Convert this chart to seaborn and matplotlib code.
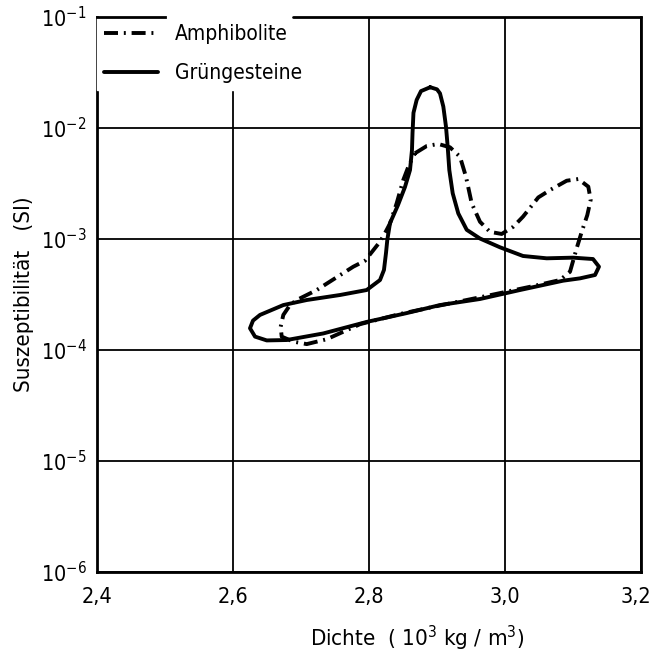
import matplotlib
matplotlib.use("Agg")
import matplotlib.pyplot as plt
import matplotlib.ticker as mticker
import matplotlib.transforms as mtransforms
from matplotlib.lines import Line2D
from matplotlib import font_manager
import pandas as pd
import seaborn as sns

# ---------------- data ----------------
series_labels = ["Amphibolite", "Grüngesteine"]

dichte_gruen = [2.890, 2.900, 2.9044, 2.9093, 2.9132, 2.9157, 2.9181, 2.9231, 2.9313, 2.9437,
                2.9632, 2.9926, 3.0265, 3.0613, 3.100, 3.1294, 3.1382, 3.1324, 3.1103, 3.0853,
                3.022, 2.9632, 2.9044, 2.8554, 2.7966, 2.7328, 2.679, 2.6496, 2.6324, 2.625,
                2.6294, 2.6397, 2.674, 2.7084, 2.7574, 2.7966, 2.8162, 2.822, 2.825, 2.8269,
                2.8309, 2.8426, 2.8529, 2.8603, 2.8632, 2.864, 2.8654, 2.8701, 2.8765, 2.890]
susz_gruen = [2.33e-2, 2.23e-2, 2.05e-2, 1.56e-2, 1.03e-2, 6.79e-3, 4.18e-3, 2.58e-3, 1.70e-3, 1.21e-3,
              1.01e-3, 8.42e-4, 7.03e-4, 6.70e-4, 6.79e-4, 6.60e-4, 5.63e-4, 4.74e-4, 4.42e-4, 4.21e-4,
              3.47e-4, 2.88e-4, 2.54e-4, 2.15e-4, 1.79e-4, 1.41e-4, 1.23e-4, 1.22e-4, 1.32e-4, 1.57e-4,
              1.84e-4, 2.07e-4, 2.54e-4, 2.82e-4, 3.13e-4, 3.47e-4, 4.27e-4, 5.26e-4, 7.48e-4, 9.80e-4,
              1.39e-3, 2.02e-3, 2.94e-3, 4.18e-3, 6.33e-3, 9.02e-3, 1.37e-2, 1.79e-2, 2.15e-2, 2.33e-2]

dichte_amph = [2.8676, 2.8849, 2.9019, 2.9191, 2.9338, 2.9426, 2.951, 2.9632, 2.9779, 2.9951,
               3.0122, 3.0265, 3.049, 3.0662, 3.0907, 3.1078, 3.1225, 3.126, 3.121, 3.1128,
               3.1054, 3.0956, 3.0809, 3.042, 2.973, 2.9044, 2.8456, 2.787, 2.7378, 2.7084,
               2.6887, 2.6716, 2.6701, 2.674, 2.6838, 2.6937, 2.7231, 2.7769, 2.7941, 2.8162,
               2.8235, 2.8309, 2.8407, 2.8504, 2.8588, 2.8676]
susz_amph = [5.92e-3, 6.88e-3, 7.18e-3, 6.70e-3, 5.51e-3, 3.64e-3, 2.10e-3, 1.43e-3, 1.16e-3, 1.11e-3,
             1.29e-3, 1.59e-3, 2.37e-3, 2.76e-3, 3.35e-3, 3.47e-3, 2.96e-3, 2.25e-3, 1.64e-3, 1.16e-3,
             8.25e-4, 5.07e-4, 4.27e-4, 3.77e-4, 3.07e-4, 2.52e-4, 2.11e-4, 1.71e-4, 1.25e-4, 1.13e-4,
             1.19e-4, 1.32e-4, 1.62e-4, 2.07e-4, 2.54e-4, 2.82e-4, 3.47e-4, 5.63e-4, 6.37e-4, 9.46e-4,
             1.13e-3, 1.38e-3, 2.10e-3, 3.40e-3, 4.64e-3, 5.92e-3]

x_ticks = [2.4, 2.6, 2.8, 3.0, 3.2]
x_ticklabels = ["2,4", "2,6", "2,8", "3,0", "3,2"]
y_ticks = [1e-6, 1e-5, 1e-4, 1e-3, 1e-2, 1e-1]
y_ticklabels = [r"$10^{-6}$", r"$10^{-5}$", r"$10^{-4}$", r"$10^{-3}$", r"$10^{-2}$", r"$10^{-1}$"]
x_label = r"Dichte  ( 10$^3$ kg / m$^3$)"
y_label = "Suszeptibilität   (SI)"

# ---------------- style ----------------
sns.set_theme(style="white")
cond = [f for f in font_manager.fontManager.ttflist
        if f.name == "DejaVu Sans" and str(f.stretch) in ("condensed", "semi-condensed")]
FONT_NAME = "DejaVu Sans"
plt.rcParams["font.family"] = [FONT_NAME]
if cond:
    plt.rcParams["font.stretch"] = "condensed"
plt.rcParams["text.color"] = "black"
plt.rcParams["axes.labelcolor"] = "black"
plt.rcParams["mathtext.fontset"] = "custom"
plt.rcParams["mathtext.rm"] = FONT_NAME
plt.rcParams["mathtext.it"] = FONT_NAME
plt.rcParams["mathtext.bf"] = FONT_NAME
FS_TICK = 15.5 if cond else 13.5
FS_LAB = 16 if cond else 14
FS_LEG = 15 if cond else 13.5

df_g = pd.DataFrame({"Dichte": dichte_gruen, "Suszeptibilitaet": susz_gruen})
df_a = pd.DataFrame({"Dichte": dichte_amph, "Suszeptibilitaet": susz_amph})

fig = plt.figure(figsize=(6.52, 6.61), dpi=100)
ax = fig.add_axes([97 / 652, 1 - 572 / 661, 544 / 652, 555 / 661])

LW = 2.8
DASHDOT = (0, (3.6, 1.5, 0.5, 1.5))

sns.lineplot(data=df_a, x="Dichte", y="Suszeptibilitaet", sort=False, estimator=None,
             color="black", lw=LW, linestyle=DASHDOT, ax=ax, zorder=3)
sns.lineplot(data=df_g, x="Dichte", y="Suszeptibilitaet", sort=False, estimator=None,
             color="black", lw=LW, linestyle="-", ax=ax, zorder=3)
for ln in ax.lines:
    ln.set_solid_joinstyle("round")
    ln.set_dash_joinstyle("round")

ax.set_yscale("log")
ax.set_xlim(2.4, 3.2)
ax.set_ylim(1e-6, 1e-1)
ax.set_xticks(x_ticks)
ax.set_xticklabels(x_ticklabels)
ax.set_yticks(y_ticks)
ax.set_yticklabels(y_ticklabels)
ax.yaxis.set_minor_locator(mticker.NullLocator())
ax.xaxis.set_minor_locator(mticker.NullLocator())

ax.grid(True, color="black", lw=1.3)
ax.set_axisbelow(True)
for s in ax.spines.values():
    s.set_color("black")
    s.set_linewidth(2.0)

ax.tick_params(axis="both", which="major", direction="inout", length=9, width=1.6,
               color="black", labelsize=FS_TICK, labelcolor="black")
ax.tick_params(axis="x", pad=6)
ax.tick_params(axis="y", pad=3)

# last x label nudged left so it stays inside the figure
last = ax.get_xticklabels()[-1]
last.set_transform(last.get_transform() +
                   mtransforms.ScaledTranslation(-5 / 100, 0, fig.dpi_scale_trans))

ax.set_xlabel(x_label, fontsize=FS_LAB, color="black")
ax.set_ylabel(y_label, fontsize=FS_LAB, color="black")
ax.xaxis.set_label_coords(0.588, -0.093)
ax.yaxis.set_label_coords(-0.115, 0.50)

handles = [Line2D([], [], color="black", lw=LW, linestyle=DASHDOT),
           Line2D([], [], color="black", lw=LW, linestyle="-")]
leg = ax.legend(handles, series_labels, loc="upper left", bbox_to_anchor=(0.0, 1.0),
                borderaxespad=0.0, borderpad=0.35, frameon=True, fancybox=False,
                framealpha=1.0, facecolor="white", edgecolor="white",
                handlelength=2.6, handletextpad=0.8, labelspacing=0.9, fontsize=FS_LEG)
for t in leg.get_texts():
    t.set_color("black")
leg.set_zorder(5)

# top frame line interrupted by the legend text, as in the original
ax.spines["top"].set_bounds(2.4, 2.5)
ax.spines["top"].set_zorder(6)
ax.axhline(1e-1, xmin=0.36, xmax=1.0, color="black", lw=2.0, zorder=6, clip_on=False)

fig.savefig("out.png", dpi=100)
